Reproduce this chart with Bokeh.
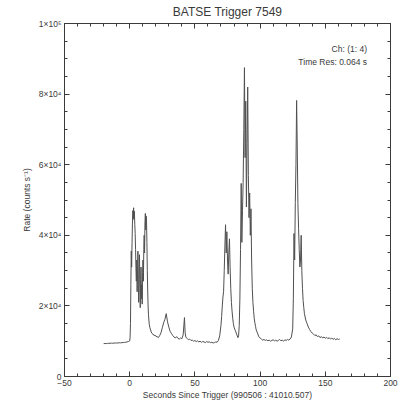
from bokeh.plotting import figure
from bokeh.models import (FixedTicker, LinearAxis, Label, Range1d,
                          CustomLabelingPolicy)
from bokeh.embed import file_html
from bokeh.resources import INLINE

# ---- light curve, summed channels 1-4 (seconds since trigger, counts/s) ----
t_pre = [-20, -19, -18, -17, -16, -15, -14, -13, -12, -11, -10, -9, -8, -7, -6,
         -5, -4, -3, -2, -1, 0]
r_pre = [9300, 9350, 9320, 9400, 9380, 9420, 9450, 9400, 9480, 9500, 9470, 9520,
         9560, 9530, 9600, 9620, 9680, 9700, 9800, 9900, 10100]

t_p1 = [0.3, 0.6, 0.9, 1.2, 1.5, 1.8, 2.1, 2.4, 2.7, 3.0, 3.3, 3.6, 3.9, 4.2, 4.5,
        4.8, 5.1, 5.4, 5.7, 6.0, 6.3, 6.6, 6.9, 7.2, 7.5, 7.8, 8.1, 8.4, 8.7, 9.0,
        9.3, 9.6, 9.9, 10.2, 10.5, 10.8, 11.1, 11.4, 11.7, 12.0, 12.3, 12.6, 12.9,
        13.2, 13.5, 13.8, 14.1, 14.4, 14.7, 15.0, 15.5, 16.0, 16.5, 17.0, 17.5,
        18.0, 18.5, 19.0, 19.5, 20.0]
r_p1 = [11000, 15000, 26000, 35500, 31000, 38000, 43500, 47000, 44500, 47800,
        45000, 46800, 43000, 40500, 36000, 30500, 27000, 33000, 24000, 29000,
        35500, 26000, 21000, 30500, 34500, 25000, 19500, 27500, 31000, 22000,
        26000, 20500, 29500, 33000, 27000, 36000, 40000, 35000, 43500, 46200,
        41500, 45500, 44000, 38000, 30000, 24500, 20000, 17500, 16000, 14800,
        13800, 13200, 12600, 12300, 12100, 11800, 11900, 11500, 11700, 11400]

t_mid = [21, 22, 23, 24, 25, 26, 27, 28, 29, 30, 31, 32, 33, 34, 35, 36, 37, 38,
         39, 40, 41, 42, 42.5, 43, 44, 45, 46, 47, 48, 49, 50, 51, 52, 53, 54, 55,
         56, 57, 58, 59, 60, 61, 62, 63, 64, 65, 66, 67, 68, 69, 70]
r_mid = [11300, 11000, 11600, 12400, 13800, 15200, 16200, 17800, 15500, 14000,
         12800, 12200, 11600, 11200, 10900, 11300, 10800, 10600, 10900, 10700,
         11800, 16700, 12500, 11200, 10800, 10400, 10600, 10200, 10300, 10000,
         10200, 9900, 10100, 9800, 10000, 9700, 9900, 9800, 9600, 9900, 9700,
         9800, 9600, 9700, 9500, 9600, 9800, 9700, 10200, 11500, 14500]

t_p2 = [70.5, 71, 71.5, 72, 72.5, 73, 73.5, 74, 74.5, 75, 75.5, 76, 76.5, 77,
        77.5, 78, 78.5, 79, 79.5, 80, 81, 82, 83, 83.5, 84, 84.5, 85, 85.5, 86,
        86.5, 87, 87.5, 88, 88.5, 89, 89.5, 90, 90.5, 91, 91.5, 92, 92.5, 93,
        93.5, 94, 94.5, 95, 95.5, 96, 96.5, 97, 98, 99, 100]
r_p2 = [17000, 20000, 22500, 24000, 30000, 37000, 43000, 35000, 41000, 33000,
        29000, 35000, 39000, 31000, 25000, 21000, 18500, 16500, 15000, 14000,
        13000, 12000, 11000, 11500, 14500, 22000, 36000, 54700, 38000, 47000,
        55000, 70000, 87500, 62000, 78000, 48000, 66000, 82000, 57000, 45000,
        52000, 40000, 47500, 33000, 25000, 21000, 18500, 16500, 15200, 14200,
        13200, 12300, 11300, 10900]

t_quiet = [101, 102, 103, 104, 105, 106, 107, 108, 109, 110, 111, 112, 113, 114,
           115, 116, 117, 118, 119, 120, 121, 122, 123, 124, 125]
r_quiet = [10600, 10300, 10500, 10200, 10400, 10100, 10300, 10000, 10200, 10400,
           10100, 10300, 10000, 10200, 10500, 10100, 10300, 10000, 10400, 10200,
           10500, 10300, 10600, 11200, 13500]

t_p3 = [125.5, 126, 126.5, 127, 127.5, 128, 128.5, 129, 129.5, 130, 130.5, 131,
        131.5, 132, 132.5, 133, 133.5, 134, 135, 136, 137, 138, 139, 140]
r_p3 = [22000, 40500, 33000, 49300, 60000, 78200, 65000, 49000, 42000, 36000,
        31000, 33000, 40000, 30000, 25000, 21500, 19500, 17800, 16000, 15000,
        14000, 13300, 12700, 12300]

t_tail = [141, 142, 143, 144, 145, 146, 147, 148, 149, 150, 151, 152, 153, 154,
          155, 156, 157, 158, 159, 160, 161]
r_tail = [12000, 11600, 11800, 11300, 11500, 11000, 11300, 10900, 11200, 10800,
          11100, 10700, 11000, 10600, 10900, 10500, 10800, 10400, 10700, 10500,
          10600]

times = t_pre + t_p1 + t_mid + t_p2 + t_quiet + t_p3 + t_tail
rates = r_pre + r_p1 + r_mid + r_p2 + r_quiet + r_p3 + r_tail

# ---- axes / tick definitions ----
x_major = [-50, 0, 50, 100, 150, 200]
x_minor = list(range(-50, 201, 10))
y_major = [0, 20000, 40000, 60000, 80000, 100000]
y_minor = list(range(0, 100001, 5000))
y_tick_labels = ["0", "2×10⁴", "4×10⁴", "6×10⁴", "8×10⁴", "1×10⁵"]

FONT = "Liberation Sans"
INK = "#3a3a3a"

p = figure(width=416, height=403, output_backend="svg", toolbar_location=None,
           x_range=Range1d(-50, 200), y_range=Range1d(0, 100000),
           min_border_left=64, min_border_right=26, min_border_top=23,
           min_border_bottom=27, background_fill_color="white",
           border_fill_color="white")
p.grid.visible = False
p.outline_line_color = None

p.title.text = "BATSE Trigger 7549"
p.title.align = "center"
p.title.text_font = FONT
p.title.text_font_size = "12px"
p.title.text_font_style = "normal"
p.title.text_color = INK
p.title.standoff = 2
p.title.offset = 0

# the mirror axes (top and right) carry ticks only, no labels
no_labels = CustomLabelingPolicy(
    code="const all = [...indices]; for (const i of all) indices.unset(i); return indices")


def style_axis(ax, ticker, show_labels):
    ax.ticker = ticker
    ax.axis_line_color = INK
    ax.major_tick_line_color = INK
    ax.minor_tick_line_color = INK
    ax.major_tick_in = 5
    ax.major_tick_out = 0
    ax.minor_tick_in = 3
    ax.minor_tick_out = 0
    ax.major_label_text_font = FONT
    ax.major_label_text_color = INK
    ax.axis_label_text_font = FONT
    ax.axis_label_text_font_style = "normal"
    ax.axis_label_text_color = INK
    if show_labels:
        ax.major_label_text_font_size = "8.5px"
        ax.major_label_standoff = 3
    else:
        ax.major_label_text_font_size = "1px"
        ax.major_label_policy = no_labels
        ax.major_label_standoff = 0


xt = FixedTicker(ticks=x_major, minor_ticks=x_minor)
yt = FixedTicker(ticks=y_major, minor_ticks=y_minor)

bottom = p.xaxis[0]
left = p.yaxis[0]
style_axis(bottom, xt, True)
style_axis(left, yt, True)
bottom.axis_label = "Seconds Since Trigger (990506 : 41010.507)"
bottom.axis_label_text_font_size = "8.5px"
bottom.axis_label_standoff = 1
left.axis_label = "Rate (counts s⁻¹)"
left.axis_label_text_font_size = "8.5px"
left.axis_label_standoff = 4
left.major_label_overrides = dict(zip(y_major, y_tick_labels))

top = LinearAxis()
style_axis(top, FixedTicker(ticks=x_major, minor_ticks=x_minor), False)
p.add_layout(top, "above")
right = LinearAxis()
style_axis(right, FixedTicker(ticks=y_major, minor_ticks=y_minor), False)
p.add_layout(right, "right")

p.line(times, rates, line_color="#505050", line_width=1)

for txt, yv in [("Ch: (1: 4)", 92900), ("Time Res: 0.064 s", 89000)]:
    p.add_layout(Label(x=182, y=yv, text=txt, text_align="right",
                       text_baseline="middle", text_font=FONT,
                       text_font_size="8.5px", text_color=INK))

open("out.html", "w").write(file_html(p, INLINE))
